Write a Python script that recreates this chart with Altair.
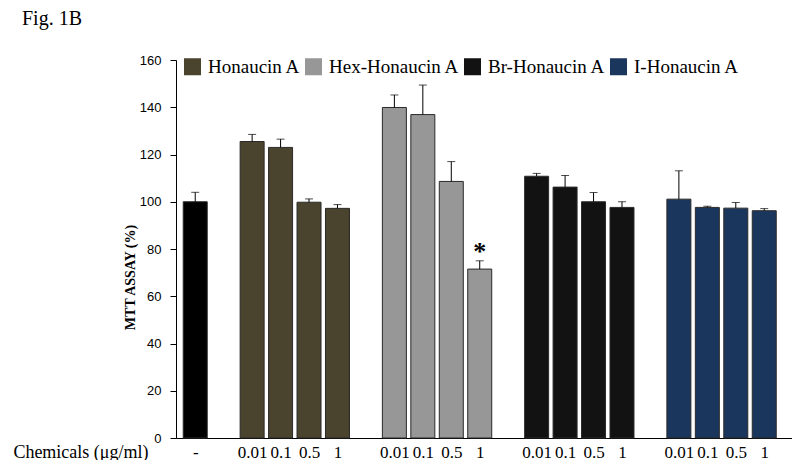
import altair as alt
import pandas as pd

# ---- data ----
series = ["Honaucin A", "Hex-Honaucin A", "Br-Honaucin A", "I-Honaucin A"]
series_colors = ["#4a432d", "#979797", "#121212", "#1b365d"]
doses = ["0.01", "0.1", "0.5", "1"]

control_label = "-"
control_value = 100.0
control_err = 4.0

honaucin_vals = [125.5, 123.0, 99.8, 97.2]
honaucin_err = [3.0, 3.5, 1.4, 1.6]
hex_vals = [139.9, 136.9, 108.6, 71.5]
hex_err = [5.3, 12.5, 8.4, 3.5]
br_vals = [110.8, 106.2, 100.0, 97.6]
br_err = [1.2, 4.9, 3.9, 2.4]
i_vals = [101.1, 97.6, 97.3, 96.2]
i_err = [12.0, 0.5, 2.4, 0.9]
hex_sig = ["", "", "", "*"]
no_sig = ["", "", "", ""]

y_ticks = [0, 20, 40, 60, 80, 100, 120, 140, 160]

# ---- build table ----
rows = [dict(series="Control", dose=control_label, pos=0, value=control_value,
             top=control_value + control_err, sig="")]
all_vals = [honaucin_vals, hex_vals, br_vals, i_vals]
all_errs = [honaucin_err, hex_err, br_err, i_err]
all_sig = [no_sig, hex_sig, no_sig, no_sig]
for g, name in enumerate(series):
    for i, d in enumerate(doses):
        rows.append(dict(series=name, dose=d, pos=5 * g + 2 + i,
                         value=all_vals[g][i], top=all_vals[g][i] + all_errs[g][i],
                         sig=all_sig[g][i]))
df = pd.DataFrame(rows)

positions = [int(p) for p in df["pos"]]
label_arr = [""] * (max(positions) + 1)
for p, d in zip(positions, df["dose"]):
    label_arr[p] = d
label_expr = "[" + ",".join("'" + s + "'" for s in label_arr) + "][round(datum.value)]"

serif = "Liberation Serif"

x_axis = alt.Axis(values=positions, labelExpr=label_expr, grid=False,
                  ticks=False, tickSize=0, domainColor="black",
                  labelFont=serif, labelFontSize=17, labelColor="black",
                  labelBaseline="alphabetic", labelPadding=19,
                  labelOverlap=False, labelFlush=False, labelBound=False,
                  title="Chemicals (μg/ml)", titleFont=serif,
                  titleFontSize=18, titleFontWeight="normal",
                  titleColor="black", titleAlign="right",
                  titleAnchor="start", titleX=-28, titleY=19,
                  titleBaseline="alphabetic")
x_scale = alt.Scale(domain=[-0.5, 20.8], nice=False, zero=False)
y_scale = alt.Scale(domain=[0, 160], nice=False)
x = alt.X("pos:Q", scale=x_scale, axis=x_axis)

bars = alt.Chart(df).mark_bar(size=24, stroke="#2a2a2a", strokeWidth=1).encode(
    x=x,
    y=alt.Y("value:Q", scale=y_scale,
            axis=alt.Axis(values=y_ticks, grid=False, tickSize=6,
                          tickColor="black", domainColor="black",
                          labelFont="Liberation Sans", labelFontSize=13,
                          labelColor="black", labelPadding=9,
                          title="MTT ASSAY (%)", titleFont=serif,
                          titleFontSize=14, titleFontWeight="bold",
                          titleColor="black", titleX=-39, titleY=217,
                          titleAngle=-90, titleBaseline="bottom",
                          titleAlign="center")),
    color=alt.Color("series:N",
                    scale=alt.Scale(domain=["Control"] + series,
                                    range=["#000000"] + series_colors),
                    legend=alt.Legend(values=series, title=None, orient="none",
                                      legendX=7, legendY=-3,
                                      direction="horizontal",
                                      symbolType="square", symbolSize=289,
                                      symbolStrokeWidth=0,
                                      labelFont=serif, labelFontSize=19,
                                      labelColor="black", labelOffset=6,
                                      columnPadding=3, padding=0)),
)

err_rule = alt.Chart(df).mark_rule(color="black", strokeWidth=1).encode(
    x=x, y=alt.Y("value:Q", scale=y_scale), y2="top:Q")
err_cap = alt.Chart(df).mark_tick(orient="horizontal", size=8, thickness=1,
                                  color="black").encode(
    x=x, y=alt.Y("top:Q", scale=y_scale))
stars = alt.Chart(df).mark_text(font=serif, fontSize=26, fontWeight="bold",
                                baseline="middle", dy=-9, color="black").encode(
    x=x, y=alt.Y("top:Q", scale=y_scale), text="sig:N")

chart = alt.layer(bars, err_rule, err_cap, stars).properties(
    width=616, height=378,
    autosize=alt.AutoSizeParams(type="none"),
    padding={"left": 168, "top": 52, "right": 0, "bottom": 22},
    title=alt.TitleParams("Fig. 1B", anchor="start", frame="group", dx=-154,
                          offset=9, baseline="alphabetic", font=serif,
                          fontSize=20, fontWeight="normal", color="black"),
).configure_view(stroke=None).configure_axis(domainWidth=1).configure_axisX(
    labelOverlap=False)

chart.save("out.html", embed_options={"renderer": "svg", "actions": False})
